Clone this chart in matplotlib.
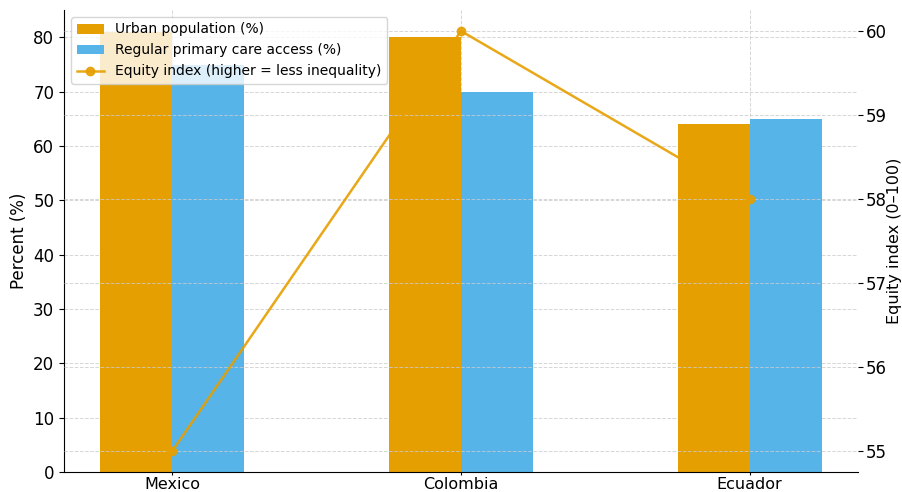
import matplotlib
matplotlib.use("Agg")
import matplotlib.pyplot as plt
import numpy as np

countries = ["Mexico", "Colombia", "Ecuador"]
urban = [81, 80, 64]
access = [75, 70, 65]
equity = [55, 60, 58]

orange = "#E69F00"
blue = "#56B4E9"

fig = plt.figure(figsize=(9.02, 4.92), dpi=100)
ax = fig.add_axes([64/902, 1-472/492, (858-64)/902, (472-10)/492])
ax2 = ax.twinx()

x = np.arange(len(countries))
w = 0.25
b1 = ax.bar(x - w/2, urban, w, color=orange, label="Urban population (%)")
b2 = ax.bar(x + w/2, access, w, color=blue, label="Regular primary care access (%)")
l1, = ax2.plot(x, equity, color=orange, marker="o", markersize=6, linewidth=1.8,
               alpha=0.9, label="Equity index (higher = less inequality)")

ax.set_xticks(x)
ax.set_xticklabels(countries, fontsize=11.5)
ax.tick_params(axis="x", length=2.5, pad=1)
ax.tick_params(axis="y", labelsize=12)
ax2.tick_params(axis="y", labelsize=12, pad=2)
ax.set_ylabel("Percent (%)", fontsize=12)
ax2.set_ylabel("Equity index (0–100)", fontsize=11.5, labelpad=0)

for a in (ax, ax2):
    a.spines["top"].set_visible(False)
    a.spines["right"].set_visible(False)
ax2.spines["left"].set_visible(False)
ax2.spines["bottom"].set_visible(False)

ax.grid(True, linestyle="--", linewidth=0.7, color="#cccccc", alpha=0.8)
ax2.grid(True, axis="y", linestyle="--", linewidth=0.7, color="#cccccc", alpha=0.8)
ax.set_axisbelow(True)

ax2.legend(handles=[b1, b2, l1], loc="upper left", fontsize=10, framealpha=0.8)

fig.savefig("out.png", dpi=100)
